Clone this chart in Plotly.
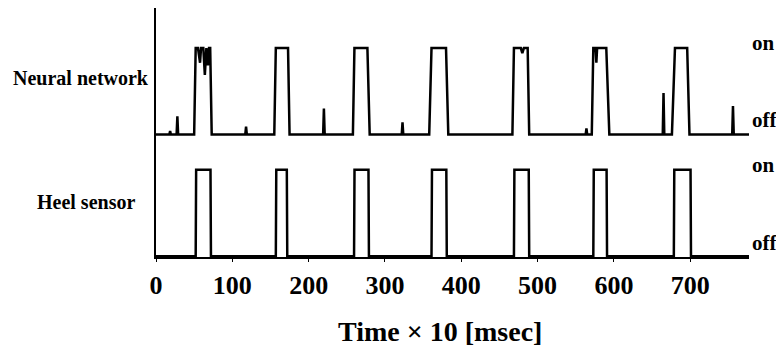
import plotly.graph_objects as go

# Neural network output (0 = off, 1 = on), time in units of 10 msec
nn_time = [0, 17.5, 18.5, 19.5, 27, 28, 29, 50, 52, 55, 57.7, 59, 62, 64, 66, 68, 69.5, 71, 73,
           117, 118, 119, 155, 157, 173, 175,
           219, 220, 221, 258, 260, 277, 280,
           322, 323, 324, 358, 361, 380, 383,
           467, 469, 478, 480, 482, 487, 489,
           563, 564, 565, 571, 573, 576, 577, 578, 590, 594,
           664, 665, 666, 676, 680, 696, 699,
           755, 756, 757, 777]
nn_value = [0, 0, 0.04, 0, 0, 0.21, 0, 0, 1, 1, 0.83, 1, 1, 0.69, 1, 0.8, 1, 1, 0,
            0, 0.09, 0, 0, 1, 1, 0,
            0, 0.30, 0, 0, 1, 1, 0,
            0, 0.14, 0, 0, 1, 1, 0,
            0, 1, 1, 0.94, 1, 1, 0,
            0, 0.07, 0, 0, 1, 1, 0.83, 1, 1, 0,
            0, 0.48, 0, 0, 1, 1, 0,
            0, 0.33, 0, 0]

# Heel sensor (0 = off, 1 = on)
heel_time = [0, 52, 52.6, 71.4, 72, 157, 157.6, 171.4, 172, 259.5, 260.1, 278.4, 279,
             361, 361.6, 380.4, 381, 469, 469.6, 488.4, 489, 573, 573.6, 590.4, 591,
             678.5, 679.1, 700.4, 701, 777]
heel_value = [0, 0, 1, 1, 0, 0, 1, 1, 0, 0, 1, 1, 0,
              0, 1, 1, 0, 0, 1, 1, 0, 0, 1, 1, 0,
              0, 1, 1, 0, 0]

x_ticks = [0, 100, 200, 300, 400, 500, 600, 700]
state_labels = ["on", "off"]
row_labels = ["Neural network", "Heel sensor"]
x_title = "Time \u00d7 10 [msec]"

NN_OFFSET = 1.41
SERIF = "Liberation Serif, Times New Roman, serif"

fig = go.Figure()
fig.add_trace(go.Scatter(x=nn_time, y=[v + NN_OFFSET for v in nn_value], mode="lines",
                         line=dict(color="black", width=2.5), showlegend=False))
fig.add_trace(go.Scatter(x=heel_time, y=heel_value, mode="lines",
                         line=dict(color="black", width=2.5), showlegend=False))

fig.update_layout(
    width=776, height=338,
    margin=dict(l=148, r=35, t=0, b=89),
    plot_bgcolor="white", paper_bgcolor="white",
    xaxis=dict(range=[0, 777], tickvals=x_ticks, ticktext=[str(t) for t in x_ticks],
               showgrid=False, zeroline=False, showline=True, linecolor="black", linewidth=1.5,
               ticks="outside", ticklen=3, tickwidth=1, tickcolor="black",
               tickfont=dict(family=SERIF, size=26, color="black", weight="bold"),
               ticklabelstandoff=1),
    yaxis=dict(range=[-0.01, 2.874], showgrid=False, zeroline=False, showline=True,
               linecolor="black", linewidth=1.5, showticklabels=False, ticks=""),
)

lab_font = dict(family=SERIF, size=21, color="black", weight="bold")
for txt, yv in [(state_labels[0], 2.468), (state_labels[1], 1.576),
                (state_labels[0], 1.054), (state_labels[1], 0.15)]:
    fig.add_annotation(text=txt, xref="paper", yref="y", x=1.0017, y=yv,
                       xanchor="left", yanchor="middle", showarrow=False, font=lab_font)

row_font = dict(family=SERIF, size=20, color="black", weight="bold")
fig.add_annotation(text=row_labels[0], xref="paper", yref="y", x=-0.0085, y=2.06,
                   xanchor="right", yanchor="middle", showarrow=False, font=row_font)
fig.add_annotation(text=row_labels[1], xref="paper", yref="y", x=-0.032, y=0.626,
                   xanchor="right", yanchor="middle", showarrow=False, font=row_font)

fig.add_annotation(text=x_title, xref="paper", yref="paper", x=0.479, y=-0.301,
                   xanchor="center", yanchor="middle", showarrow=False,
                   font=dict(family=SERIF, size=28, color="black", weight="bold"))

fig.write_html("out.html")
